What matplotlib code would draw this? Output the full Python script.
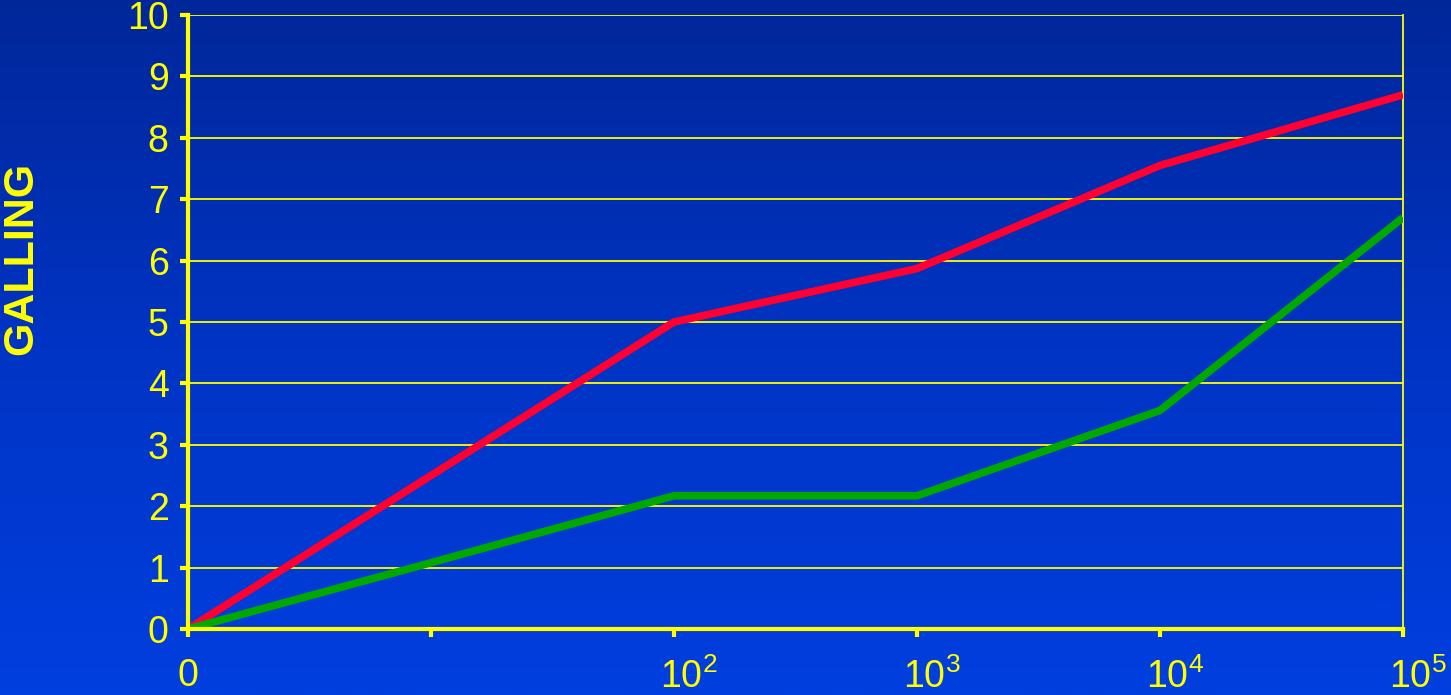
import numpy as np
import matplotlib
matplotlib.use('Agg')
import matplotlib.pyplot as plt
import matplotlib.transforms as mtransforms
from matplotlib.colors import LinearSegmentedColormap

#=============================================================================#
# Data #
#=============================================================================#
x_labels = ['0', '', r'$\mathregular{10^{2}}$', r'$\mathregular{10^{3}}$',
            r'$\mathregular{10^{4}}$', r'$\mathregular{10^{5}}$']
red_vals = [0, 2.5, 5.0, 5.87, 7.55, 8.7]
green_vals = [0, 1.08, 2.17, 2.17, 3.56, 6.7]
y_ticks = list(range(0, 11))
y_label = 'GALLING'

yellow = '#ffff00'
plt.rcParams['font.family'] = ['Liberation Sans', 'DejaVu Sans']
plt.rcParams['mathtext.fontset'] = 'custom'
plt.rcParams['mathtext.rm'] = 'Liberation Sans'

#=============================================================================#
# Figure + gradient background #
#=============================================================================#
fig = plt.figure(figsize=(14.51, 6.95), dpi=100)
bg = fig.add_axes([0, 0, 1, 1])
cmap = LinearSegmentedColormap.from_list('bg', ['#00279a', '#0034c4', '#003fdf'])
grad = np.linspace(0, 1, 256).reshape(-1, 1)
bg.imshow(grad, aspect='auto', cmap=cmap, extent=[0, 1, 0, 1], origin='upper')
bg.set_axis_off()

ax = fig.add_axes([188 / 1451, 1 - 629 / 695, (1403 - 188) / 1451, (629 - 15) / 695])
ax.set_facecolor('none')

xs = np.arange(len(x_labels))
ax.plot(xs, red_vals, color='#ff0033', lw=5.5, solid_capstyle='butt', zorder=4)
ax.plot(xs, green_vals, color='#00a800', lw=5.5, solid_capstyle='butt', zorder=4)

ax.set_xlim(0, len(x_labels) - 1)
ax.set_ylim(0, 10)
ax.set_yticks(y_ticks)
ax.set_xticks(xs)
ax.set_xticklabels(x_labels)

ax.yaxis.grid(True, color=yellow, lw=1.3, zorder=1)
ax.set_axisbelow(True)

for s in ['left', 'bottom']:
    ax.spines[s].set_color(yellow)
    ax.spines[s].set_linewidth(3)
    ax.spines[s].set_zorder(5)
ax.spines['right'].set_color(yellow)
ax.spines['right'].set_linewidth(1.3)
ax.spines['top'].set_visible(False)

ax.tick_params(axis='y', colors=yellow, labelsize=27, length=6, width=3, pad=8,
               direction='out')
ax.tick_params(axis='x', colors=yellow, labelsize=27, length=6, width=3, pad=15,
               direction='out')

# superscript labels sit a bit right of their ticks in the original
shift = mtransforms.ScaledTranslation(15 / 100, 0, fig.dpi_scale_trans)
for lab in ax.get_xticklabels()[2:]:
    lab.set_transform(lab.get_transform() + shift)

fig.text(21 / 1451, 1 - 258 / 695, y_label, rotation=90, color=yellow,
         fontsize=31, fontweight='bold', ha='center', va='center')

plt.savefig('out.png', dpi=100)
